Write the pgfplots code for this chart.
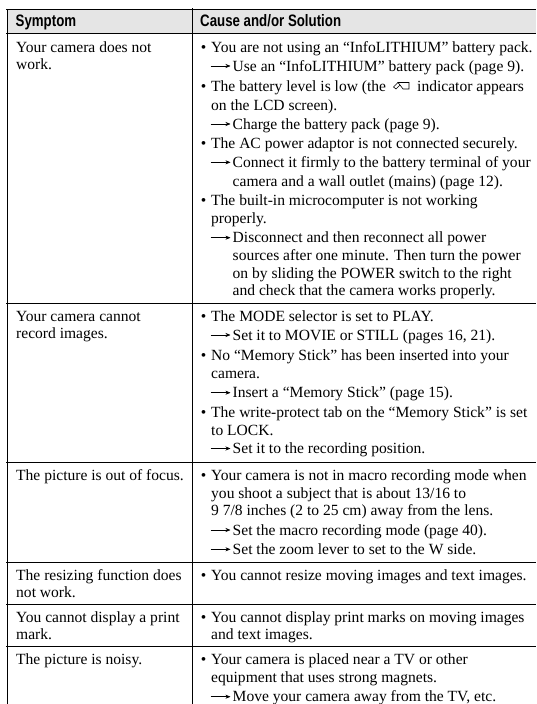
\documentclass[border=0pt]{standalone}
\usepackage{fontspec}
\usepackage{pgfplots}
\pgfplotsset{compat=1.18}
\usetikzlibrary{arrows.meta}
\setmainfont{Liberation Serif}
\newfontfamily\hd[FakeStretch=0.80]{Liberation Sans}
\newcommand{\fs}{\fontsize{15.55}{17}\selectfont}
\newcommand{\T}[3]{\node[anchor=base west,inner sep=0pt,font=\fs] at (axis cs:#1,#2) {#3};}
\newcommand{\B}[2]{\T{200.6}{#1}{•}\T{211}{#1}{#2}}
\newcommand{\A}[2]{\draw[line width=0.55pt,-{Stealth[length=5pt,width=4pt]}] (axis cs:210.7,#1-5) -- (axis cs:230.5,#1-5);\T{232.5}{#1}{#2}}
\begin{document}
\begin{tikzpicture}
\begin{axis}[scale only axis,width=536pt,height=704pt,xmin=0,xmax=536,ymin=0,ymax=704,y dir=reverse,hide axis,clip=false]
\addplot[draw=none,forget plot] coordinates {(0,0)(536,704)};
% header background
\addplot[draw=none,fill=black!10,forget plot] coordinates {(7,9.3)(536,9.3)(536,33.3)(7,33.3)} -- cycle;
% table rules
\addplot[black,line width=1pt,forget plot] coordinates {(6,9.3)(536,9.3)};
\addplot[black,line width=1pt,forget plot] coordinates {(6,33.3)(536,33.3)};
\addplot[black,line width=1pt,forget plot] coordinates {(6,303.5)(536,303.5)};
\addplot[black,line width=1pt,forget plot] coordinates {(6,462.3)(536,462.3)};
\addplot[black,line width=1pt,forget plot] coordinates {(6,562.6)(536,562.6)};
\addplot[black,line width=1pt,forget plot] coordinates {(6,604)(536,604)};
\addplot[black,line width=1pt,forget plot] coordinates {(6,646)(536,646)};
\addplot[black,line width=1pt,forget plot] coordinates {(7,9)(7,704)};
\addplot[black,line width=1pt,forget plot] coordinates {(192.7,8)(192.7,704)};
% header
\node[anchor=base west,inner sep=0pt,font=\hd\bfseries\fontsize{16.6}{17}\selectfont] at (axis cs:15.5,26.7) {Symptom};
\node[anchor=base west,inner sep=0pt,font=\hd\bfseries\fontsize{16.6}{17}\selectfont] at (axis cs:200,26.7) {Cause and/or Solution};
% row 1
\T{16}{52}{Your camera does not}
\T{16}{69.5}{work.}
\B{52}{You are not using an “InfoLITHIUM” battery pack.}
\A{71}{Use an “InfoLITHIUM” battery pack (page 9).}
\B{91}{The battery level is low (the}
\T{417}{91}{indicator appears}
\draw[line width=0.6pt] (axis cs:398,82.5) -- (axis cs:393.5,87) -- (axis cs:396,89) -- (axis cs:400,85) -- (axis cs:398,82.5) -- (axis cs:409,82.5) -- (axis cs:409,89) -- (axis cs:403,89) -- (axis cs:400,85);
\T{211}{110}{on the LCD screen).}
\A{129}{Charge the battery pack (page 9).}
\B{148.3}{The AC power adaptor is not connected securely.}
\A{167.3}{Connect it firmly to the battery terminal of your}
\T{232.5}{186.2}{camera and a wall outlet (mains) (page 12).}
\B{205}{The built-in microcomputer is not working}
\T{211}{223.5}{properly.}
\A{242.7}{Disconnect and then reconnect all power}
\T{232.5}{260.7}{sources after one minute. Then turn the power}
\T{232.5}{278.3}{on by sliding the POWER switch to the right}
\T{232.5}{295.7}{and check that the camera works properly.}
% row 2
\T{16}{321}{Your camera cannot}
\T{16}{338.5}{record images.}
\B{321}{The MODE selector is set to PLAY.}
\A{340}{Set it to MOVIE or STILL (pages 16, 21).}
\B{360.5}{No “Memory Stick” has been inserted into your}
\T{211}{378}{camera.}
\A{397.7}{Insert a “Memory Stick” (page 15).}
\B{417.3}{The write-protect tab on the “Memory Stick” is set}
\T{211}{435}{to LOCK.}
\A{453.5}{Set it to the recording position.}
% row 3
\T{16}{480}{The picture is out of focus.}
\B{480}{Your camera is not in macro recording mode when}
\T{211}{498}{you shoot a subject that is about 13/16 to}
\T{211}{515.7}{9 7/8 inches (2 to 25 cm) away from the lens.}
\A{535}{Set the macro recording mode (page 40).}
\A{554.3}{Set the zoom lever to set to the W side.}
% row 4
\T{16}{580}{The resizing function does}
\T{16}{597.7}{not work.}
\B{580}{You cannot resize moving images and text images.}
% row 5
\T{16}{622.3}{You cannot display a print}
\T{16}{639.7}{mark.}
\B{622.3}{You cannot display print marks on moving images}
\T{211}{639.7}{and text images.}
% row 6
\T{16}{664.5}{The picture is noisy.}
\B{664.5}{Your camera is placed near a TV or other}
\T{211}{682.7}{equipment that uses strong magnets.}
\A{701.7}{Move your camera away from the TV, etc.}
\end{axis}
\pgfresetboundingbox
\path[use as bounding box] (0,0) rectangle (536pt,704pt);
\end{tikzpicture}
\end{document}
